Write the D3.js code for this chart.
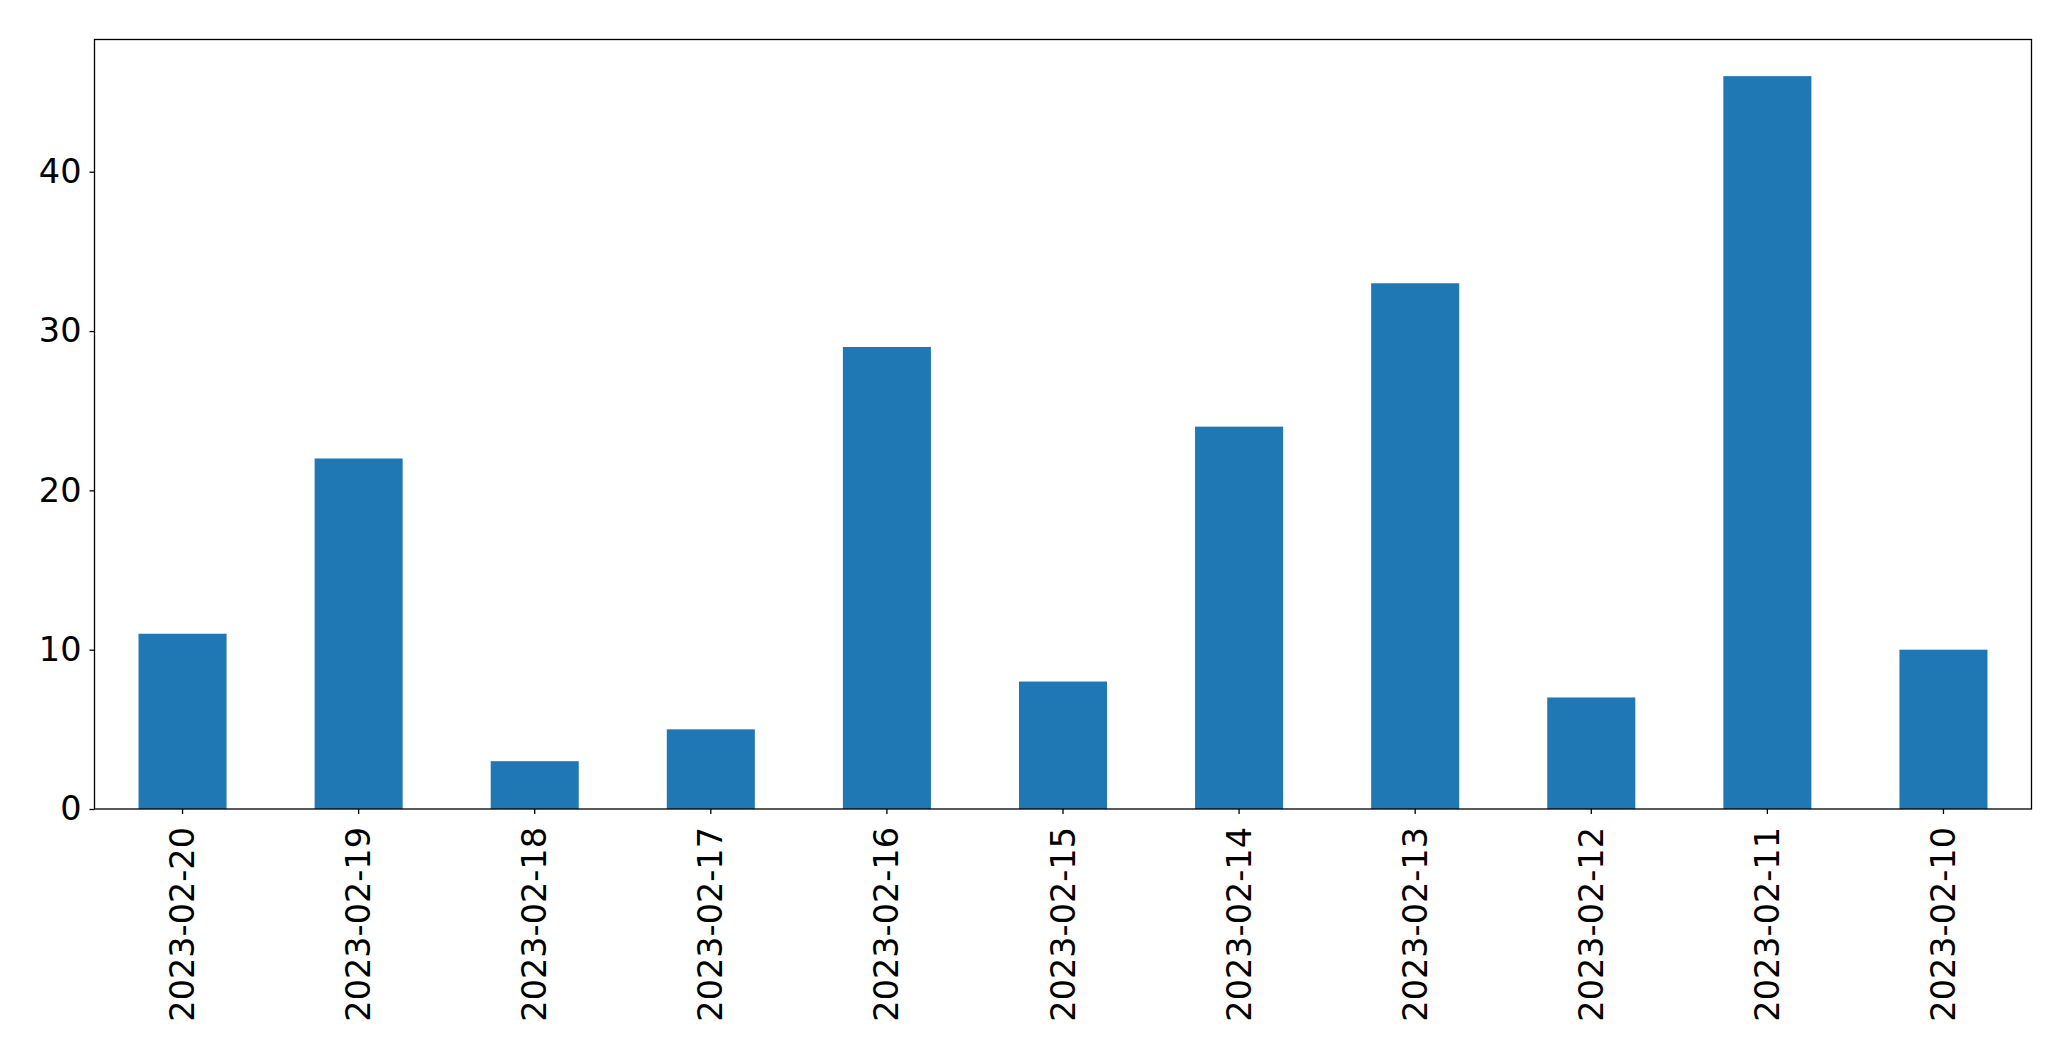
<!DOCTYPE html>
<html>
<head>
<meta charset="utf-8">
<script src="https://cdn.jsdelivr.net/npm/d3@7"></script>
<style>
html,body{margin:0;padding:0;background:#fff;}
svg{display:block;}
text{font-family:"DejaVu Sans",sans-serif;}
</style>
</head>
<body>
<svg id="chart" width="2071" height="1061"></svg>
<script>
const categories = ["2023-02-20","2023-02-19","2023-02-18","2023-02-17","2023-02-16","2023-02-15","2023-02-14","2023-02-13","2023-02-12","2023-02-11","2023-02-10"];
const values = [11, 22, 3, 5, 29, 8, 24, 33, 7, 46, 10];
const yTicks = [0, 10, 20, 30, 40];

const W = 2071, H = 1061;
const m = {left: 94.5, top: 39.5, right: 2031.5, bottom: 809};
const svg = d3.select("#chart");

const x = d3.scaleBand().domain(categories).range([m.left, m.right]).paddingInner(0.5).paddingOuter(0.25);
const y = d3.scaleLinear().domain([0, d3.max(values) * 1.05]).range([m.bottom, m.top]);

svg.append("g").selectAll("rect").data(values).join("rect")
  .attr("x", (d, i) => x(categories[i]))
  .attr("width", x.bandwidth())
  .attr("y", d => y(d))
  .attr("height", d => y(0) - y(d))
  .attr("fill", "#1f77b4");

const fs = 33.5;
const yAxis = svg.append("g").attr("transform", `translate(${m.left},0)`)
  .call(d3.axisLeft(y).tickValues(yTicks).tickSize(5).tickPadding(8).tickFormat(d3.format("d")));
yAxis.select(".domain").remove();
yAxis.selectAll("line").attr("stroke", "#000").attr("stroke-width", 1.3);
yAxis.selectAll("text").attr("font-size", fs).attr("fill", "#000").attr("font-family", "DejaVu Sans");

const xAxis = svg.append("g").attr("transform", `translate(0,${m.bottom})`)
  .call(d3.axisBottom(x).tickSize(5).tickPadding(0));
xAxis.select(".domain").remove();
xAxis.selectAll("line").attr("stroke", "#000").attr("stroke-width", 1.3);
xAxis.selectAll("text")
  .attr("font-size", fs).attr("fill", "#000").attr("font-family", "DejaVu Sans")
  .attr("text-anchor", "end").attr("dy", null).attr("y", 0).attr("x", 0)
  .attr("transform", "translate(0,18) rotate(-90)")
  .attr("dominant-baseline", "central");

svg.append("rect")
  .attr("x", m.left).attr("y", m.top)
  .attr("width", m.right - m.left).attr("height", m.bottom - m.top)
  .attr("fill", "none").attr("stroke", "#000").attr("stroke-width", 1.3);
</script>
</body>
</html>
